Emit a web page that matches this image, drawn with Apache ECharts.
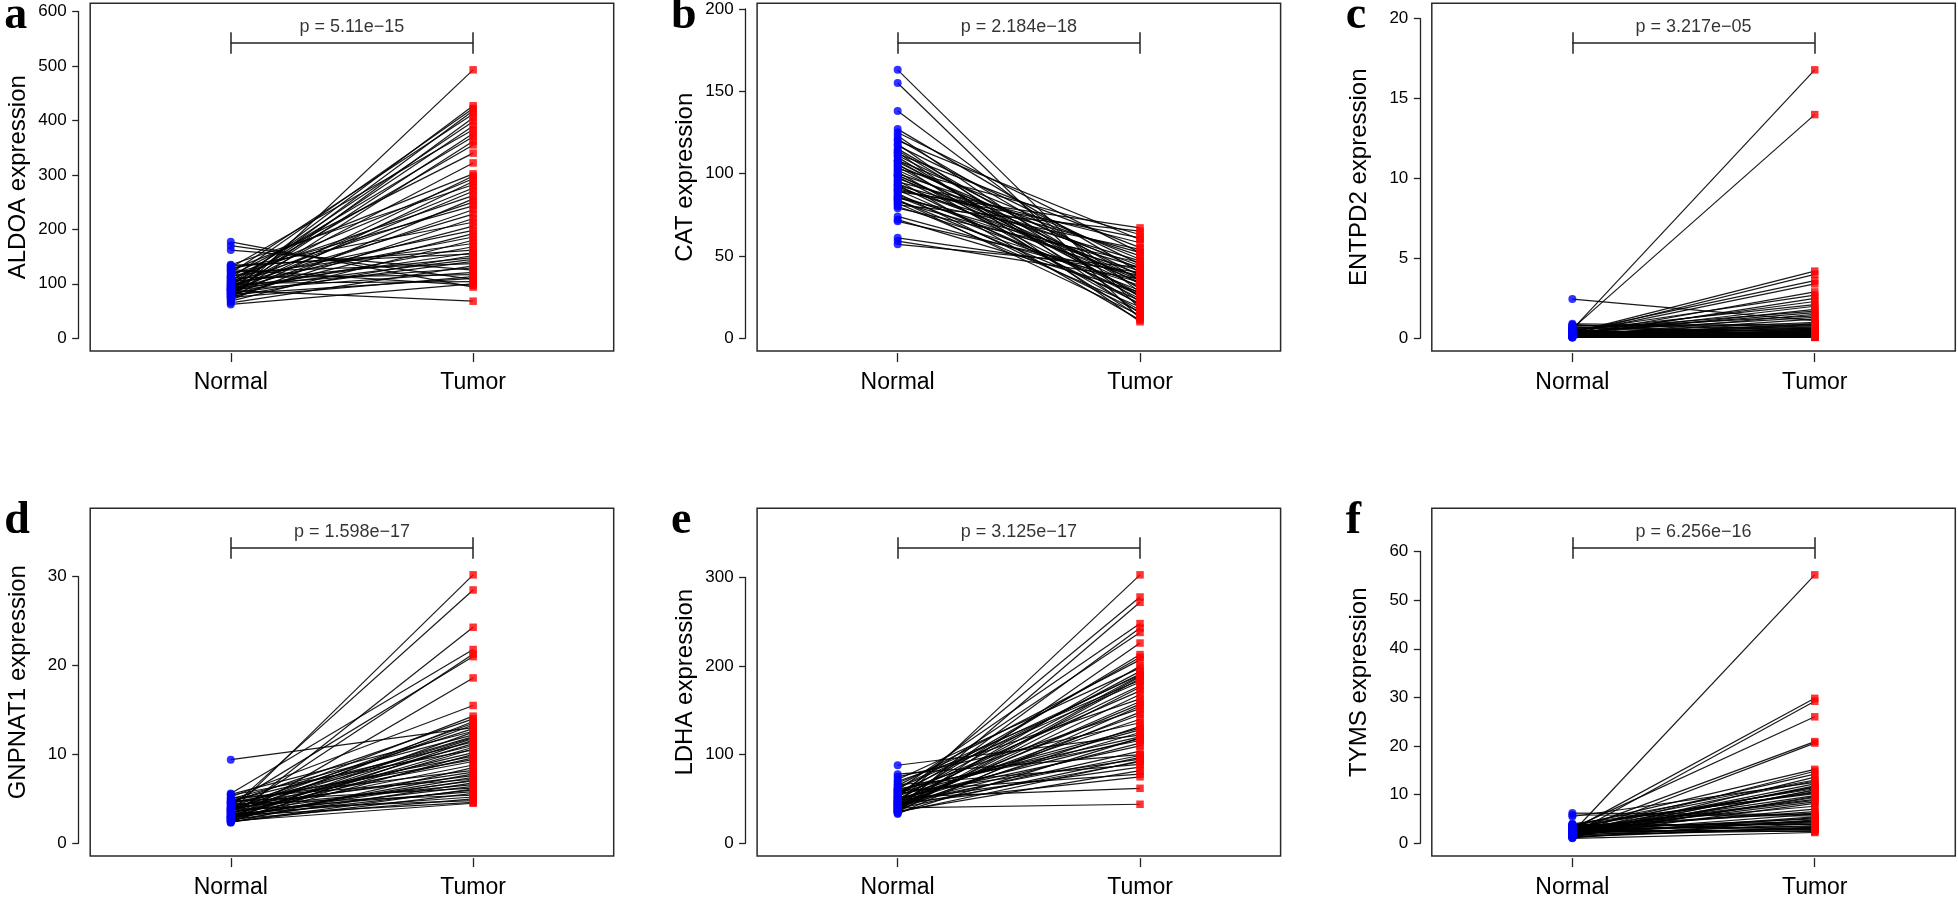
<!DOCTYPE html>
<html><head><meta charset="utf-8">
<script src="https://cdn.jsdelivr.net/npm/echarts@6/dist/echarts.min.js"></script>
<style>html,body{margin:0;padding:0;background:#fff}#c{width:1958px;height:902px}</style>
</head><body><div id="c"></div>
<script>
// ---------- data ----------
const categories = ['Normal', 'Tumor'];
const genes = ['ALDOA', 'CAT', 'ENTPD2', 'GNPNAT1', 'LDHA', 'TYMS'];
const panelLetters = ['a', 'b', 'c', 'd', 'e', 'f'];
const pValues = ['p = 5.11e\u221215', 'p = 2.184e\u221218', 'p = 3.217e\u221205', 'p = 1.598e\u221217', 'p = 3.125e\u221217', 'p = 6.256e\u221216'];
const tickSteps = [100, 50, 5, 10, 100, 10];

const aldoaNormal = [72,95,110,88,120,80,100,92,130,85,105,78,98,115,90,125,82,108,76,135,94,86,112,70,102,118,84,96,74,128,90,106,80,99,68,114,87,132,93,77,104,177,83,122,65,97,162,89,111,75,170,101,62,126,91,81,88,134];
const aldoaTumor = [493,427,422,418,412,405,398,390,383,376,370,362,355,340,322,302,298,293,288,282,276,270,262,256,250,243,236,228,220,213,206,198,192,186,180,174,168,162,157,152,148,94,141,137,133,129,125,121,117,113,108,104,100,97,145,110,68,155];

const catNormal = [163,155,138,127,125,123,121,120,118,117,115,114,112,111,110,108,107,106,105,104,103,102,101,100,99,98,97,96,95,94,93,92,91,90,89,88,87,86,85,84,83,82,81,80,79,84,86,90,99,108,113,74,72,71,61,59,57,93];
const catTumor = [18,12,28,40,52,22,35,60,15,45,30,25,55,38,20,48,33,13,42,27,63,36,17,50,31,24,44,11,58,34,21,39,47,26,67,16,37,29,54,23,41,19,65,32,46,14,43,61,35,26,10,34,28,38,40,36,43,52];

const entpd2Normal = [0.55,0.60,0.35,0.25,0.40,0.30,0.20,0.45,0.15,0.30,0.50,0.25,0.20,0.35,0.10,0.60,0.40,0.18,2.45,0.28,0.75,0.22,0.12,0.90,0.33,0.16,0.80,0.26,0.08,0.42,0.19,0.65,0.11,0.30,0.05,0.24,0.14,0.37,0.09,0.21,0.70,0.13,0.27,0.06,0.17,0.48,0.23,0.10,0.31,0.07,0.85,0.15,0.29,0.04,0.38,0.20,0.12,0.52];
const entpd2Tumor = [16.8,14.0,4.2,4.0,3.6,3.4,2.9,2.7,2.5,2.3,2.1,2.0,1.8,1.6,1.5,1.4,1.3,1.2,1.1,1.0,0.9,0.85,0.8,0.75,0.7,0.65,0.6,0.55,0.5,0.48,0.45,0.42,0.4,0.38,0.35,0.32,0.3,0.28,0.26,0.24,0.22,0.2,0.18,0.16,0.15,0.14,0.12,0.11,0.1,0.09,0.08,0.07,0.06,0.05,0.55,0.9,0.3,1.7];

const gnpnat1Normal = [3.5,4.0,2.8,5.6,3.2,4.4,2.6,5.2,3.8,4.6,3.0,9.4,3.3,4.1,2.7,5.0,3.6,2.4,4.8,3.1,4.3,2.9,5.4,3.7,2.5,4.5,3.4,2.3,4.9,3.9,2.8,4.2,3.0,5.1,3.5,2.6,4.0,3.2,4.7,2.9,3.6,2.4,4.4,3.3,2.7,3.8,3.1,2.5,4.1,3.4,2.9,5.5,3.7,2.6,4.6,3.0,2.4,3.9];
const gnpnat1Tumor = [30.2,28.5,24.3,21.8,21.3,21.0,18.6,15.5,14.3,14.0,13.7,13.0,13.3,12.9,12.5,12.2,11.9,11.6,11.4,11.2,11.0,10.8,10.5,10.2,10.0,9.8,9.6,8.5,8.2,8.0,7.8,7.6,7.4,7.2,7.0,6.8,6.6,6.4,6.2,6.0,5.8,5.6,5.4,5.2,5.0,4.8,4.6,4.5,9.2,8.8,11.8,12.6,13.5,10.6,9.4,7.1,6.1,12.0];

const ldhaNormal = [45,52,38,60,42,55,36,48,65,40,50,57,44,35,62,47,53,39,70,43,58,37,49,75,41,54,46,88,34,61,44,51,78,39,56,42,66,48,36,59,45,52,40,33,47,63,38,72,50,43,57,35,68,41,54,46,37,60];
const ldhaTumor = [303,278,272,248,243,238,226,213,207,200,194,191,189,186,182,178,172,168,163,157,152,148,140,136,132,128,125,122,119,116,113,110,100,97,95,92,89,86,82,78,75,62,44,155,145,190,176,198,118,104,130,93,184,160,210,99,188,120];

const tymsNormal = [2.2,2.8,1.9,3.1,2.5,1.6,3.5,2.0,2.9,1.4,3.8,2.3,1.8,2.7,3.3,1.2,2.1,4.0,2.6,1.7,3.0,2.4,1.5,6.2,5.8,3.6,2.2,1.9,2.8,1.1,3.2,2.5,1.6,3.9,2.0,2.9,1.3,3.4,2.3,1.8,2.7,1.0,5.5,2.1,3.7,1.5,2.6,3.0,1.9,2.4,3.5,1.4,2.2,3.1,1.7,2.8,2.0,3.3];
const tymsTumor = [55.2,29.8,29.2,26.0,20.9,20.6,15.2,14.8,14.2,13.6,13.0,12.2,11.8,11.5,11.2,11.0,10.6,10.2,9.8,9.4,9.0,8.5,8.2,5.9,5.6,6.2,6.0,5.4,5.0,4.8,4.5,4.2,4.0,3.8,3.6,3.4,3.2,3.0,2.8,2.6,2.4,2.2,12.5,11.6,10.4,9.6,7.0,6.5,5.2,4.4,3.9,3.3,2.9,12.8,10.9,8.8,4.6,7.6];

const normalSets = [aldoaNormal, catNormal, entpd2Normal, gnpnat1Normal, ldhaNormal, tymsNormal];
const tumorSets = [aldoaTumor, catTumor, entpd2Tumor, gnpnat1Tumor, ldhaTumor, tymsTumor];

// ---------- layout ----------
const boxLefts = [90.2, 757.1, 1431.8, 90.2, 757.1, 1431.8];
const boxTops = [3.3, 3.3, 3.3, 508.3, 508.3, 508.3];
const boxW = 523.5, boxH = 347.8;
const X_MIN = 0.42, X_MAX = 2.58;
const SANS = 'Liberation Sans, Arial, Helvetica, sans-serif';
const SERIF = 'Liberation Serif, Times New Roman, serif';
const axisLine = { color: '#222', width: 1.3 };

const grids = [], xAxes = [], yAxes = [], series = [], titles = [];

genes.forEach((gene, i) => {
  const normal = normalSets[i], tumor = tumorSets[i];
  const M = Math.max(...normal, ...tumor);
  const ylimTop = 1.2 * M;
  const yMin = -0.04 * ylimTop, yMax = 1.04 * ylimTop;
  const step = tickSteps[i];
  const tickMax = Math.floor(yMax / step) * step;
  const L = boxLefts[i], T = boxTops[i];
  const py = v => T + boxH * (yMax - v) / (yMax - yMin);
  const px = v => L + boxW * (v - X_MIN) / (X_MAX - X_MIN);

  // plotting box
  const g0 = grids.length;
  grids.push({ left: L, top: T, width: boxW, height: boxH, show: true, borderColor: '#2a2a2a', borderWidth: 1.5, backgroundColor: 'transparent' });
  xAxes.push({ gridIndex: g0, type: 'value', min: X_MIN, max: X_MAX, show: false });
  yAxes.push({ gridIndex: g0, type: 'value', min: yMin, max: yMax,
    axisLine: { show: false }, axisTick: { show: false }, axisLabel: { show: false }, splitLine: { show: false },
    name: gene + ' expression', nameLocation: 'middle', nameGap: 60,
    nameTextStyle: { fontSize: 24, fontFamily: SANS, color: '#000' } });

  // detached y axis (0 .. tickMax)
  const g1 = grids.length;
  grids.push({ left: L - 11.5, top: py(tickMax), width: 5, height: py(0) - py(tickMax) });
  xAxes.push({ gridIndex: g1, type: 'value', show: false });
  yAxes.push({ gridIndex: g1, type: 'value', min: 0, max: tickMax, interval: step,
    axisLine: { show: true, lineStyle: axisLine },
    axisTick: { show: true, length: 6.5, lineStyle: axisLine },
    axisLabel: { fontSize: 17, margin: 12, color: '#000', fontFamily: SANS },
    splitLine: { show: false } });

  // x ticks & category labels
  const g2 = grids.length;
  grids.push({ left: px(1), top: T + boxH + 1, width: px(2) - px(1), height: 1 });
  xAxes.push({ gridIndex: g2, type: 'value', min: 1, max: 2, interval: 1,
    axisLine: { show: false },
    axisTick: { show: true, length: 9, lineStyle: axisLine },
    axisLabel: { fontSize: 23, margin: 18, color: '#000', fontFamily: SANS, formatter: v => categories[Math.round(v) - 1] },
    splitLine: { show: false } });
  yAxes.push({ gridIndex: g2, type: 'value', show: false });

  // paired lines
  series.push({ type: 'lines', coordinateSystem: 'cartesian2d', xAxisIndex: g0, yAxisIndex: g0, polyline: false, silent: true, z: 2,
    lineStyle: { color: '#000', width: 1.2, opacity: 0.9 },
    data: normal.map((n, k) => ({ coords: [[1, n], [2, tumor[k]]] })) });
  series.push({ type: 'scatter', xAxisIndex: g0, yAxisIndex: g0, symbol: 'circle', symbolSize: 8, silent: true, z: 3,
    itemStyle: { color: '#0000ff' }, data: normal.map(v => [1, v]) });
  series.push({ type: 'scatter', xAxisIndex: g0, yAxisIndex: g0, symbol: 'rect', symbolSize: 7.5, silent: true, z: 4,
    itemStyle: { color: '#ff0000' }, data: tumor.map(v => [2, v]) });
  // significance bracket
  series.push({ type: 'lines', coordinateSystem: 'cartesian2d', xAxisIndex: g0, yAxisIndex: g0, polyline: false, silent: true, z: 2,
    lineStyle: { color: '#222', width: 1.5, opacity: 1 },
    data: [
      { coords: [[1, 1.06 * M], [1, 1.14 * M]] },
      { coords: [[1, 1.1 * M], [2, 1.1 * M]] },
      { coords: [[2, 1.06 * M], [2, 1.14 * M]] }
    ] });
  series.push({ type: 'scatter', xAxisIndex: g0, yAxisIndex: g0, symbolSize: 1, silent: true, z: 5,
    itemStyle: { color: 'rgba(0,0,0,0)' },
    label: { show: true, position: 'inside', formatter: pValues[i], fontSize: 18, color: '#000', fontFamily: SANS },
    data: [[1.5, 1.16 * M]] });

  titles.push({ text: panelLetters[i], left: L - 86, top: T - 10, padding: 0,
    textStyle: { fontFamily: SERIF, fontWeight: 'bold', fontSize: 46, color: '#000' } });
});

const chart = echarts.init(document.getElementById('c'), null, { renderer: 'canvas' });
chart.setOption({
  animation: false,
  backgroundColor: '#fff',
  textStyle: { fontFamily: SANS },
  title: titles,
  grid: grids,
  xAxis: xAxes,
  yAxis: yAxes,
  series: series
});
</script>
</body></html>
